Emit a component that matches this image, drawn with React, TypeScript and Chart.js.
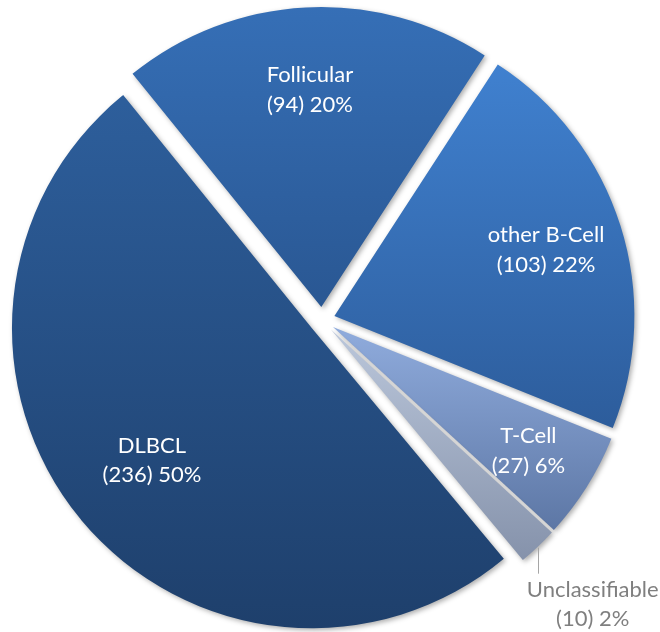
import { useEffect, useRef } from "react";
import { Chart, registerables, ArcElement, PieController } from "chart.js";

Chart.register(...registerables);

// ---- data ----
const categories = ["Follicular", "other B-Cell", "T-Cell", "Unclassifiable", "DLBCL"];
const counts = [94, 103, 27, 10, 236];

// ---- styles ----
const TOP_COLORS = ["#3670b8", "#4081d0", "#8eaadb", "#b9c5d9", "#2d5e9b"];
const BOTTOM_COLORS = ["#2a5894", "#2d5d9c", "#5b75a3", "#8390a9", "#1e3f6b"];
const LABEL_RADIUS = [0.727, 0.74, 0.77, 0, 0.69];
const LABEL_OUTSIDE = [false, false, false, true, false];
const OFFSET = 13;
const FONT = "22px Lato";
const LINE_GAP = 29.5;

// Arc that is pulled out of the pie by a fixed distance along its mid-angle
class ExplodedArc extends ArcElement {
  static id = "explodedArc";
  draw(ctx: CanvasRenderingContext2D) {
    const self: any = this;
    const mid = (self.startAngle + self.endAngle) / 2;
    ctx.save();
    ctx.translate(Math.cos(mid) * OFFSET, Math.sin(mid) * OFFSET);
    super.draw(ctx);
    ctx.restore();
  }
}

class ExplodedPieController extends PieController {
  static id = "explodedPie";
  static defaults = { dataElementType: "explodedArc" };
}

Chart.register(ExplodedArc as any, ExplodedPieController as any);

function sliceGradient(ctx: any) {
  const i = ctx.dataIndex ?? 0;
  const el = ctx.element;
  const chart = ctx.chart;
  if (!el || el.outerRadius == null || !isFinite(el.outerRadius) || !chart.ctx) return TOP_COLORS[i];
  const { x, y, startAngle, endAngle, outerRadius } = el;
  const mid = (startAngle + endAngle) / 2;
  const cx = x + OFFSET * Math.cos(mid);
  const cy = y + OFFSET * Math.sin(mid);
  const ys = [cy, cy + outerRadius * Math.sin(startAngle), cy + outerRadius * Math.sin(endAngle)];
  for (let k = -2; k <= 2; k++) {
    for (const base of [Math.PI / 2, -Math.PI / 2]) {
      const a = base + 2 * Math.PI * k;
      if (a > startAngle && a < endAngle) ys.push(cy + outerRadius * Math.sin(a));
    }
  }
  const top = Math.min(...ys);
  const bottom = Math.max(...ys);
  const g = chart.ctx.createLinearGradient(0, top, 0, bottom);
  g.addColorStop(0, TOP_COLORS[i]);
  g.addColorStop(1, BOTTOM_COLORS[i]);
  return g;
}

const shadowPlugin = {
  id: "sliceShadow",
  beforeDatasetsDraw(chart: any) {
    const c = chart.ctx;
    c.save();
    c.shadowColor = "rgba(0,0,0,0.32)";
    c.shadowBlur = 5;
    c.shadowOffsetX = 2;
    c.shadowOffsetY = 2;
  },
  afterDatasetsDraw(chart: any) {
    chart.ctx.restore();
  },
};

const labelPlugin = {
  id: "sliceLabels",
  afterDatasetsDraw(chart: any) {
    const c = chart.ctx;
    const meta = chart.getDatasetMeta(0);
    const total = counts.reduce((a, b) => a + b, 0);
    c.save();
    c.font = FONT;
    c.textBaseline = "alphabetic";
    meta.data.forEach((arc: any, i: number) => {
      const { x, y, startAngle, endAngle, outerRadius } = arc;
      const mid = (startAngle + endAngle) / 2;
      const ax = x + OFFSET * Math.cos(mid);
      const ay = y + OFFSET * Math.sin(mid);
      const line1 = categories[i];
      const line2 = `(${counts[i]}) ${Math.round((counts[i] / total) * 100)}%`;
      if (!LABEL_OUTSIDE[i]) {
        const lx = ax + LABEL_RADIUS[i] * outerRadius * Math.cos(mid);
        const ly = ay + LABEL_RADIUS[i] * outerRadius * Math.sin(mid);
        c.fillStyle = "#ffffff";
        c.textAlign = "center";
        c.fillText(line1, lx, ly - 7);
        c.fillText(line2, lx, ly - 7 + LINE_GAP);
      } else {
        const ex = ax + outerRadius * Math.cos(mid);
        const ey = ay + outerRadius * Math.sin(mid);
        c.strokeStyle = "#a6a6a6";
        c.lineWidth = 1;
        c.beginPath();
        c.moveTo(Math.round(ex) + 0.5, ey + 1);
        c.lineTo(Math.round(ex) + 0.5, ey + 27);
        c.stroke();
        const w1 = c.measureText(line1).width;
        const left = ex - 11;
        const centerX = left + w1 / 2;
        c.fillStyle = "#7f7f7f";
        c.textAlign = "center";
        c.fillText(line1, centerX, ey + 50);
        c.fillText(line2, centerX, ey + 50 + LINE_GAP);
      }
    });
    c.restore();
  },
};

export default function App() {
  const ref = useRef<HTMLCanvasElement | null>(null);
  useEffect(() => {
    if (!ref.current) return;
    const chart = new Chart(ref.current, {
      type: "explodedPie" as any,
      data: {
        labels: categories,
        datasets: [
          {
            data: counts,
            backgroundColor: sliceGradient as any,
            borderWidth: 0,
            hoverBorderWidth: 0,
            offset: 0,
            hoverOffset: 0,
            clip: false as any,
          } as any,
        ],
      },
      options: {
        responsive: false,
        animation: false,
        events: [],
        rotation: -39,
        layout: { padding: { left: 22, top: 20, right: 38, bottom: 12 } },
        plugins: {
          legend: { display: false },
          tooltip: { enabled: false },
        },
      } as any,
      plugins: [shadowPlugin, labelPlugin],
    });
    chart.update();
    return () => chart.destroy();
  }, []);
  return (
    <div style={{ position: "absolute", left: 0, top: 0, width: 660, height: 632, background: "#fff" }}>
      <canvas ref={ref} width={660} height={632} style={{ display: "block" }} />
    </div>
  );
}
